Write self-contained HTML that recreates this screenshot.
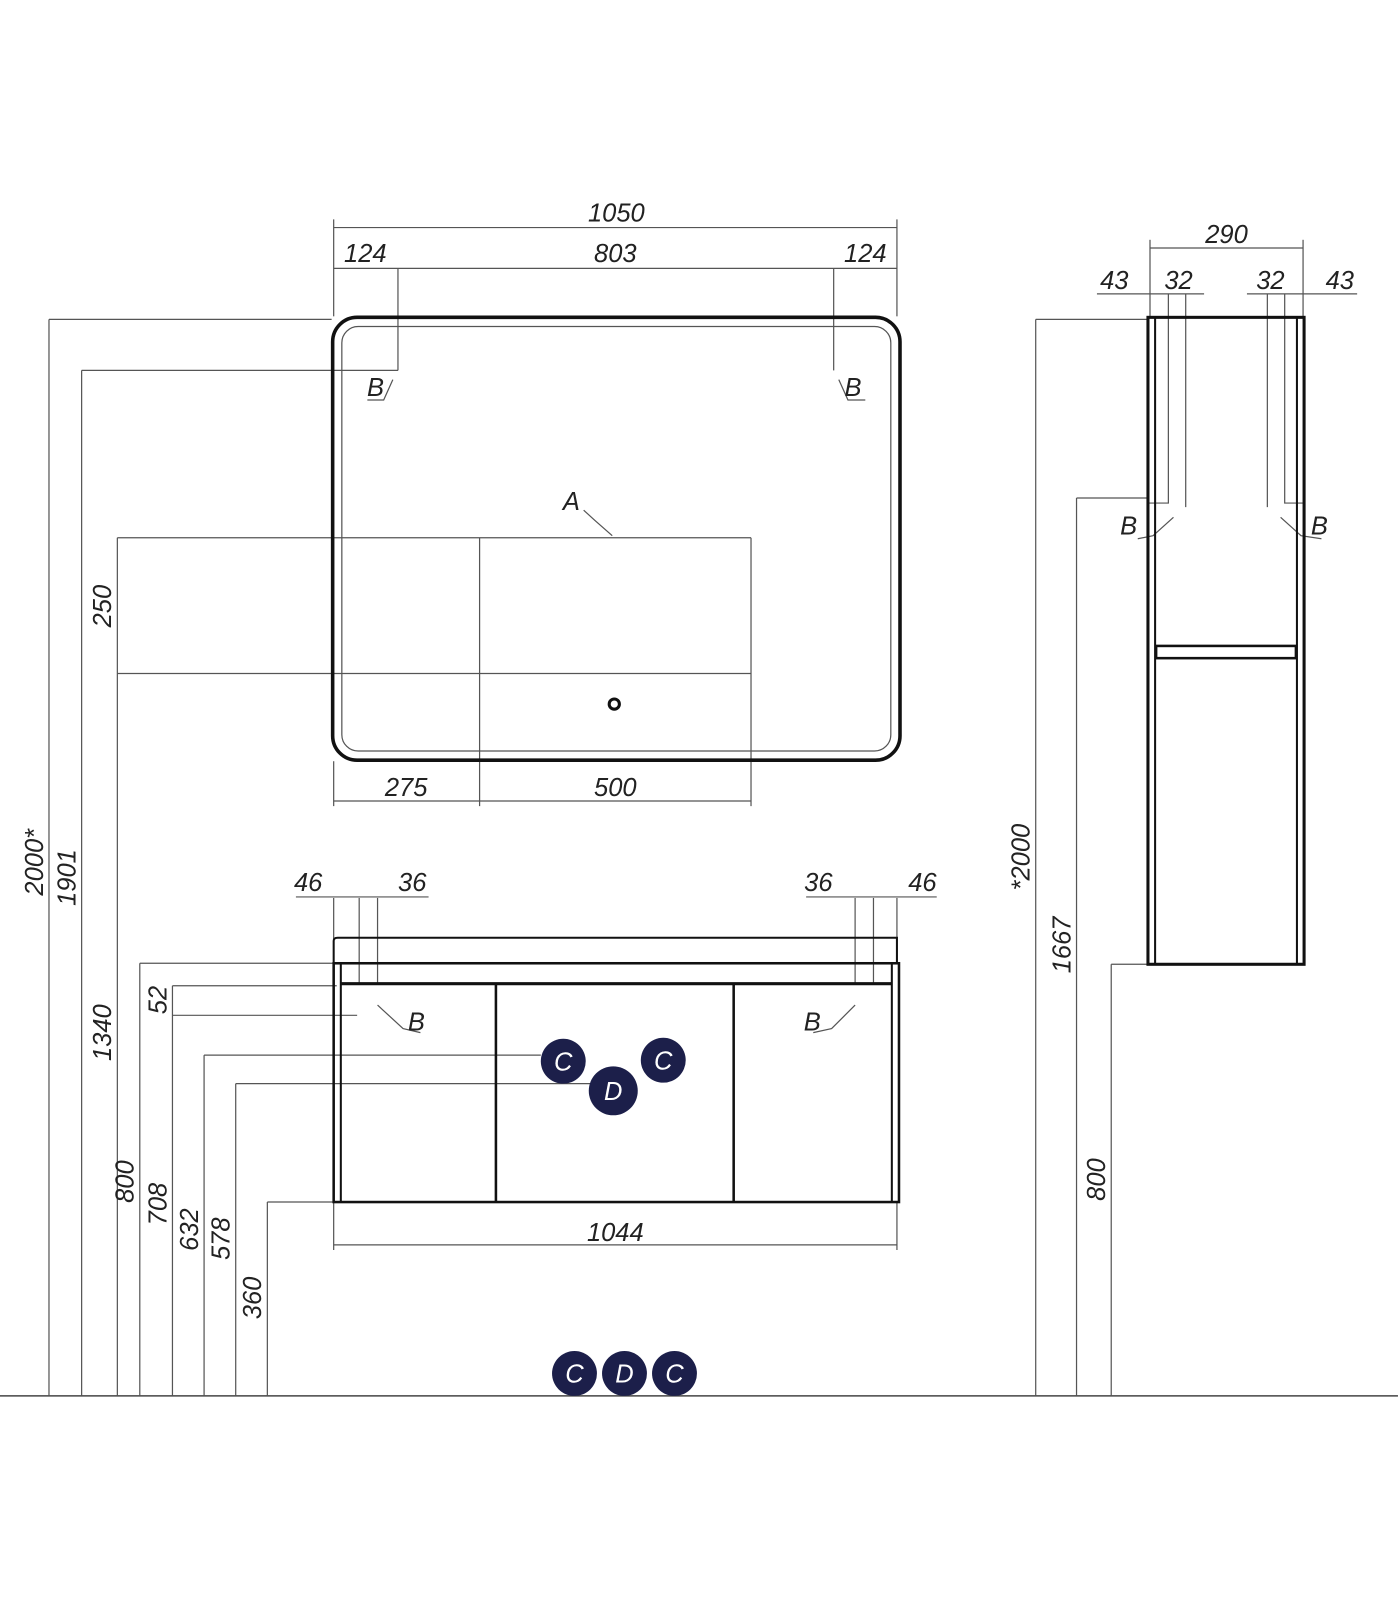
<!DOCTYPE html>
<html><head><meta charset="utf-8"><style>
html,body{margin:0;padding:0;background:#fff;}
svg{display:block}
text{font-family:"Liberation Sans",sans-serif;font-style:italic;font-size:25px;fill:#222;}
</style></head><body>
<svg width="1400" height="1600" viewBox="0 0 1372 1568" xmlns="http://www.w3.org/2000/svg">
<g stroke="#555" stroke-width="1.2" fill="none">
<line x1="0" y1="1368" x2="1370" y2="1368" stroke="#444" stroke-width="1.5"/>
<line x1="327" y1="215" x2="327" y2="310"/><line x1="879" y1="215" x2="879" y2="310"/>
<line x1="327" y1="223" x2="879" y2="223"/>
<line x1="327" y1="263" x2="879" y2="263"/>
<line x1="390" y1="263" x2="390" y2="363"/><line x1="817" y1="263" x2="817" y2="363"/>
<line x1="80" y1="363" x2="390" y2="363"/>
<line x1="48" y1="313" x2="325" y2="313"/>
<line x1="48" y1="313" x2="48" y2="1368"/>
<line x1="80" y1="363" x2="80" y2="1368"/>
<line x1="115" y1="527" x2="115" y2="1368"/>
<line x1="115" y1="527" x2="736" y2="527"/>
<line x1="115" y1="660" x2="736" y2="660"/>
<line x1="736" y1="527" x2="736" y2="790"/>
<line x1="470" y1="527" x2="470" y2="790"/>
<line x1="327" y1="746" x2="327" y2="790"/>
<line x1="327" y1="785" x2="736" y2="785"/>
<polyline points="385,372 376,392 360,392"/>
<polyline points="822,372 831,392 848,392"/>
<polyline points="572,500 583,510 600,525"/>
<line x1="327" y1="880" x2="327" y2="920"/><line x1="352" y1="880" x2="352" y2="964"/><line x1="370" y1="880" x2="370" y2="964"/>
<line x1="879" y1="880" x2="879" y2="920"/><line x1="856" y1="880" x2="856" y2="964"/><line x1="838" y1="880" x2="838" y2="964"/>
<line x1="290" y1="879" x2="420" y2="879"/>
<line x1="790" y1="879" x2="918" y2="879"/>
<line x1="137" y1="944" x2="327" y2="944"/><line x1="137" y1="944" x2="137" y2="1368"/>
<line x1="169" y1="966" x2="330" y2="966"/><line x1="169" y1="966" x2="169" y2="1368"/>
<line x1="169" y1="995" x2="350" y2="995"/>
<line x1="200" y1="1034" x2="530" y2="1034"/><line x1="200" y1="1034" x2="200" y2="1368"/>
<line x1="231" y1="1062" x2="580" y2="1062"/><line x1="231" y1="1062" x2="231" y2="1368"/>
<line x1="262" y1="1178" x2="327" y2="1178"/><line x1="262" y1="1178" x2="262" y2="1368"/>
<line x1="327" y1="1178" x2="327" y2="1225"/><line x1="879" y1="1178" x2="879" y2="1225"/>
<line x1="327" y1="1220" x2="879" y2="1220"/>
<polyline points="370,985 395,1008 412,1012"/>
<polyline points="838,985 815,1008 797,1012"/>
<line x1="1127" y1="235" x2="1127" y2="310"/><line x1="1277" y1="235" x2="1277" y2="310"/>
<line x1="1127" y1="243" x2="1277" y2="243"/>
<line x1="1075" y1="288" x2="1180" y2="288"/><line x1="1222" y1="288" x2="1330" y2="288"/>
<polyline points="1145,288 1145,493 1125,493"/><line x1="1162" y1="288" x2="1162" y2="497"/>
<polyline points="1259,288 1259,493 1277,493"/><line x1="1242" y1="288" x2="1242" y2="497"/>
<polyline points="1150,507 1130,525 1115,528"/><polyline points="1255,507 1275,525 1295,528"/>
<line x1="1015" y1="313" x2="1125" y2="313"/><line x1="1015" y1="313" x2="1015" y2="1368"/>
<line x1="1055" y1="488" x2="1125" y2="488"/><line x1="1055" y1="488" x2="1055" y2="1368"/>
<line x1="1089" y1="945" x2="1125" y2="945"/><line x1="1089" y1="945" x2="1089" y2="1368"/>
</g>
<rect x="326" y="311" width="556" height="434" rx="24" fill="none" stroke="#111" stroke-width="3.5"/>
<rect x="335" y="320" width="538" height="416" rx="16" fill="none" stroke="#555" stroke-width="1.2"/>
<circle cx="602" cy="690" r="5" fill="none" stroke="#111" stroke-width="3"/>
<g fill="none" stroke="#111">
<path d="M327 944 V922 Q327 919 331 919 H879 V944" stroke-width="2"/>
<line x1="327" y1="944" x2="881" y2="944" stroke-width="2.5"/>
<rect x="327" y="944" width="554" height="234" stroke-width="2.5"/>
<line x1="334" y1="944" x2="334" y2="1178" stroke-width="2"/>
<line x1="874" y1="944" x2="874" y2="1178" stroke-width="2"/>
<line x1="334" y1="964" x2="874" y2="964" stroke-width="3"/>
<line x1="486" y1="964" x2="486" y2="1178" stroke-width="2.5"/>
<line x1="719" y1="964" x2="719" y2="1178" stroke-width="2.5"/>
<rect x="1125" y="311" width="153" height="634" stroke-width="3"/>
<line x1="1132" y1="311" x2="1132" y2="945" stroke-width="2"/>
<line x1="1271" y1="311" x2="1271" y2="945" stroke-width="2"/>
<rect x="1133" y="633" width="137" height="12" stroke-width="2.5"/>
</g>
<g fill="#1c1f4a">
<circle cx="552" cy="1040" r="22"/><circle cx="601" cy="1069" r="24"/><circle cx="650" cy="1039" r="22"/>
<circle cx="563" cy="1346" r="22"/><circle cx="612" cy="1346" r="22"/><circle cx="661" cy="1346" r="22"/>
</g>
<g style="font-size:24px" text-anchor="middle">
<text x="552" y="1049" style="fill:#fff">C</text><text x="601" y="1078" style="fill:#fff">D</text><text x="650" y="1048" style="fill:#fff">C</text>
<text x="563" y="1355" style="fill:#fff">C</text><text x="612" y="1355" style="fill:#fff">D</text><text x="661" y="1355" style="fill:#fff">C</text>
</g>
<g text-anchor="middle">
<text x="604" y="217">1050</text>
<text x="358" y="257">124</text><text x="603" y="257">803</text><text x="848" y="257">124</text>
<text x="368" y="388">B</text><text x="836" y="388">B</text>
<text x="560" y="500">A</text>
<text x="398" y="780">275</text><text x="603" y="780">500</text>
<text x="302" y="873">46</text><text x="404" y="873">36</text>
<text x="802" y="873">36</text><text x="904" y="873">46</text>
<text x="408" y="1010">B</text><text x="796" y="1010">B</text>
<text x="603" y="1216">1044</text>
<text x="1202" y="238">290</text>
<text x="1092" y="283">43</text><text x="1155" y="283">32</text><text x="1245" y="283">32</text><text x="1313" y="283">43</text>
<text x="1106" y="524">B</text><text x="1293" y="524">B</text>
</g>
<g text-anchor="middle">
<text transform="translate(42,845) rotate(-90)">2000*</text>
<text transform="translate(74,860) rotate(-90)">1901</text>
<text transform="translate(109,1012) rotate(-90)">1340</text>
<text transform="translate(109,594) rotate(-90)">250</text>
<text transform="translate(131,1158) rotate(-90)">800</text>
<text transform="translate(163,1180) rotate(-90)">708</text>
<text transform="translate(163,980) rotate(-90)">52</text>
<text transform="translate(194,1205) rotate(-90)">632</text>
<text transform="translate(225,1214) rotate(-90)">578</text>
<text transform="translate(256,1272) rotate(-90)">360</text>
<text transform="translate(1009,840) rotate(-90)">*2000</text>
<text transform="translate(1049,926) rotate(-90)">1667</text>
<text transform="translate(1083,1156) rotate(-90)">800</text>
</g>
</svg>
</body></html>
